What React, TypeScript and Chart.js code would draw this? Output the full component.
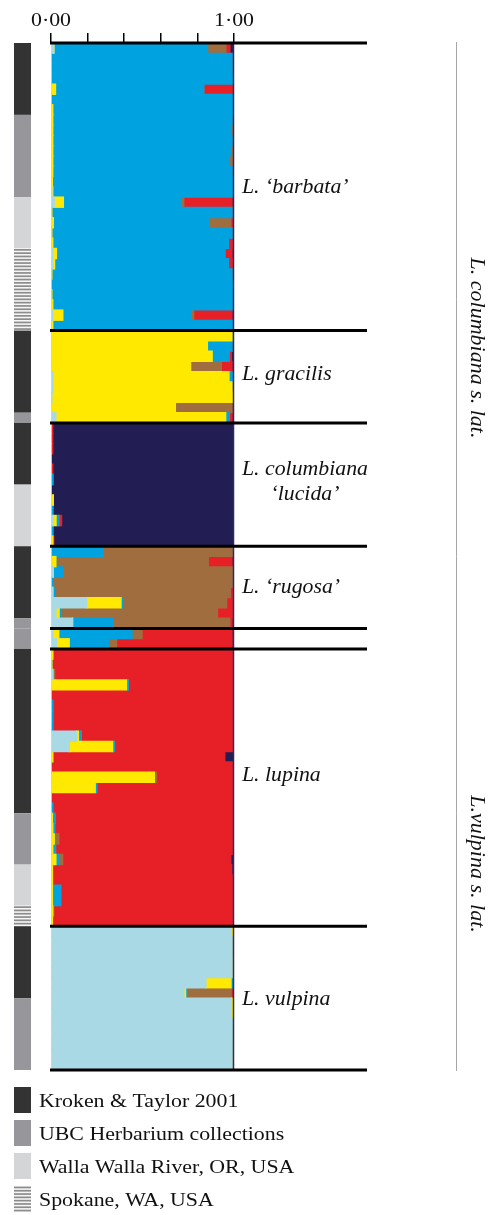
import React, { useEffect, useRef } from 'react';
import { Chart, registerables } from 'chart.js';

Chart.register(...registerables);

// cluster order (left to right within each bar)
const clusterLabels = ['Cluster light blue', 'Cluster yellow', 'Cluster blue', 'Cluster brown', 'Cluster red', 'Cluster navy'];
const clusterColors = ['#a9d9e5', '#ffe900', '#00a3e0', '#a06d3e', '#e71f27', '#221d52'];

// each row: [light blue, yellow, blue, brown, red, navy]
const barbataRows = [
  [0.016, 0, 0.84, 0.1, 0.022, 0.022],
  [0, 0, 0.99, 0.01, 0, 0],
  [0, 0, 0.99, 0.01, 0, 0],
  [0, 0, 1, 0, 0, 0],
  [0, 0.025, 0.81, 0, 0.16, 0.005],
  [0, 0, 0.995, 0, 0.005, 0],
  [0, 0.01, 0.985, 0, 0.005, 0],
  [0, 0.01, 0.98, 0.005, 0.005, 0],
  [0, 0.01, 0.975, 0.015, 0, 0],
  [0, 0.01, 0.98, 0.005, 0.005, 0],
  [0, 0.01, 0.97, 0.02, 0, 0],
  [0, 0.01, 0.965, 0.02, 0.005, 0],
  [0, 0.01, 0.98, 0.005, 0.005, 0],
  [0, 0.008, 0.987, 0, 0.005, 0],
  [0.005, 0.005, 0.985, 0, 0.005, 0],
  [0.018, 0.05, 0.645, 0.013, 0.264, 0.01],
  [0, 0.005, 0.985, 0, 0.01, 0],
  [0, 0.013, 0.85, 0.12, 0.01, 0.007],
  [0, 0.005, 0.985, 0, 0.01, 0],
  [0, 0.01, 0.96, 0, 0.03, 0],
  [0.01, 0.02, 0.92, 0, 0.04, 0.01],
  [0.01, 0.01, 0.95, 0, 0.03, 0],
  [0, 0.005, 0.985, 0, 0.01, 0],
  [0, 0, 0.995, 0, 0.005, 0],
  [0, 0.005, 0.99, 0, 0.005, 0],
  [0, 0.01, 0.985, 0, 0.005, 0],
  [0.01, 0.055, 0.697, 0.018, 0.21, 0.01],
  [0, 0.01, 0.985, 0, 0.005, 0],
];

const gracilisRows = [
  [0, 0.99, 0, 0, 0, 0.01],
  [0, 0.855, 0.135, 0, 0, 0.01],
  [0, 0.881, 0.093, 0, 0.012, 0.014],
  [0, 0.763, 0, 0.168, 0.059, 0.01],
  [0.01, 0.963, 0.022, 0, 0, 0.005],
  [0.01, 0.98, 0, 0, 0.005, 0.005],
  [0.005, 0.99, 0, 0, 0, 0.005],
  [0, 0.68, 0, 0.31, 0, 0.01],
  [0.027, 0.928, 0.02, 0, 0.015, 0.01],
];

const lucidaRows = [
  [0, 0, 0, 0, 0.01, 0.99],
  [0, 0, 0, 0, 0.01, 0.99],
  [0, 0, 0, 0, 0.01, 0.99],
  [0, 0, 0, 0, 0, 1],
  [0, 0, 0, 0, 0.01, 0.99],
  [0, 0, 0.01, 0, 0, 0.99],
  [0, 0, 0, 0, 0, 1],
  [0, 0.013, 0, 0, 0, 0.987],
  [0, 0, 0.01, 0, 0, 0.99],
  [0.01, 0.018, 0.015, 0, 0.015, 0.942],
  [0, 0, 0.01, 0, 0, 0.99],
  [0, 0.01, 0, 0, 0.005, 0.985],
];

const rugosaRows = [
  [0, 0, 0.286, 0.709, 0, 0.005],
  [0, 0.027, 0, 0.833, 0.13, 0.01],
  [0.013, 0, 0.05, 0.932, 0, 0.005],
  [0, 0, 0.013, 0.982, 0, 0.005],
  [0.01, 0, 0.01, 0.96, 0.015, 0.005],
  [0.195, 0.188, 0.008, 0.569, 0.035, 0.005],
  [0.027, 0.018, 0.01, 0.855, 0.085, 0.005],
  [0.118, 0, 0.218, 0.641, 0.013, 0.01],
];

const mixedRows = [
  [0.01, 0.033, 0.4, 0.055, 0.492, 0.01],
  [0.03, 0.07, 0.215, 0.044, 0.631, 0.01],
];

const lupinaRows = [
  [0, 0.01, 0, 0, 0.99, 0],
  [0, 0.005, 0, 0, 0.995, 0],
  [0.01, 0, 0, 0.01, 0.98, 0],
  [0, 0.413, 0.01, 0, 0.577, 0],
  [0, 0, 0, 0, 1, 0],
  [0, 0, 0.01, 0, 0.99, 0],
  [0, 0, 0.01, 0, 0.99, 0],
  [0, 0, 0.01, 0, 0.99, 0],
  [0.14, 0.01, 0.015, 0, 0.835, 0],
  [0.1, 0.237, 0.01, 0, 0.653, 0],
  [0, 0.01, 0, 0, 0.94, 0.05],
  [0, 0, 0, 0, 1, 0],
  [0, 0.565, 0, 0.012, 0.423, 0],
  [0, 0.242, 0.008, 0, 0.75, 0],
  [0, 0, 0, 0, 1, 0],
  [0, 0, 0.01, 0, 0.99, 0],
  [0, 0.008, 0.015, 0, 0.977, 0],
  [0, 0.01, 0.01, 0, 0.98, 0],
  [0, 0.018, 0, 0.025, 0.957, 0],
  [0, 0.01, 0.015, 0, 0.975, 0],
  [0, 0.027, 0.015, 0.022, 0.919, 0.017],
  [0, 0.008, 0, 0, 0.98, 0.012],
  [0, 0.008, 0, 0, 0.992, 0],
  [0, 0.008, 0.045, 0, 0.947, 0],
  [0, 0.008, 0.045, 0, 0.947, 0],
  [0, 0.01, 0, 0.005, 0.985, 0],
  [0, 0.008, 0, 0, 0.992, 0],
];

const vulpinaRows = [
  [0.985, 0.015, 0, 0, 0, 0],
  [0.99, 0, 0, 0.01, 0, 0],
  [0.99, 0, 0, 0.01, 0, 0],
  [0.99, 0.005, 0, 0.005, 0, 0],
  [0.99, 0.01, 0, 0, 0, 0],
  [0.847, 0.137, 0.008, 0, 0, 0.008],
  [0.727, 0.009, 0.009, 0.24, 0.01, 0.005],
  [0.985, 0.015, 0, 0, 0, 0],
  [0.985, 0.015, 0, 0, 0, 0],
  [0.99, 0, 0.01, 0, 0, 0],
  [0.99, 0, 0.005, 0, 0.005, 0],
  [0.99, 0, 0.01, 0, 0, 0],
  [0.99, 0, 0.005, 0, 0.005, 0],
  [0.99, 0, 0.01, 0, 0, 0],
];

// sample source runs per group: [source index, number of samples]
const barbataSources = [[0, 7], [1, 8], [2, 5], [3, 8]];
const gracilisSources = [[0, 8], [1, 1]];
const lucidaSources = [[0, 6], [2, 6]];
const rugosaSources = [[0, 7], [1, 1]];
const mixedSources = [[1, 2]];
const lupinaSources = [[0, 16], [1, 5], [2, 4], [3, 2]];
const vulpinaSources = [[0, 7], [1, 7]];

const sourceNames = ['Kroken & Taylor 2001', 'UBC Herbarium collections', 'Walla Walla River, OR, USA', 'Spokane, WA, USA'];
const sourceFills = ['#333333', '#97979b', '#d4d5d7', 'stripes'];

const xTickValues = [0, 0.2, 0.4, 0.6, 0.8, 1];
const xTickLabels = ['0·00', '', '', '', '', '1·00'];

const groups = [
  { rows: barbataRows, sources: barbataSources },
  { rows: gracilisRows, sources: gracilisSources },
  { rows: lucidaRows, sources: lucidaSources },
  { rows: rugosaRows, sources: rugosaSources },
  { rows: mixedRows, sources: mixedSources },
  { rows: lupinaRows, sources: lupinaSources },
  { rows: vulpinaRows, sources: vulpinaSources },
];

const speciesLabels = [
  { lines: ['L. ‘barbata’'], baselines: [193] },
  { lines: ['L. gracilis'], baselines: [380] },
  { lines: ['L. columbiana', '‘lucida’'], baselines: [475, 500] },
  { lines: ['L. ‘rugosa’'], baselines: [593] },
  { lines: ['L. lupina'], baselines: [781] },
  { lines: ['L. vulpina'], baselines: [1005] },
];

const sectionLabels = [
  { text: 'L. columbiana s. lat.', cy: 348 },
  { text: 'L.vulpina s. lat.', cy: 864 },
];

const allRows = groups.flatMap((g) => g.rows);
const sampleLabels = allRows.map((_, i) => 'S' + (i + 1));

const SERIF = '"Liberation Serif", "Times New Roman", Times, serif';

function stretchText(ctx: CanvasRenderingContext2D, text: string, x: number, y: number, font: string, sx: number, align: CanvasTextAlign = 'left', rotate = 0) {
  ctx.save();
  ctx.translate(x, y);
  if (rotate) ctx.rotate(rotate);
  ctx.scale(sx, 1);
  ctx.font = font;
  ctx.textAlign = align;
  ctx.textBaseline = rotate ? 'middle' : 'alphabetic';
  ctx.fillStyle = '#111111';
  ctx.fillText(text, 0, 0);
  ctx.restore();
}

function fillSource(ctx: CanvasRenderingContext2D, kind: number, x: number, y: number, w: number, h: number) {
  if (sourceFills[kind] === 'stripes') {
    ctx.fillStyle = '#f6f6f6';
    ctx.fillRect(x, y, w, h);
    ctx.fillStyle = '#8c8c8c';
    for (let yy = y + 0.6; yy < y + h - 0.4; yy += 3.3) {
      ctx.fillRect(x, yy, w, Math.min(1.7, y + h - yy));
    }
  } else {
    ctx.fillStyle = sourceFills[kind];
    ctx.fillRect(x, y, w, h);
  }
}

const decorPlugin = {
  id: 'structureDecor',
  afterDatasetsDraw(chart: any) {
    const { ctx } = chart;
    const xs = chart.scales.x;
    const ys = chart.scales.y;
    const n = allRows.length;
    const edge = (k: number) => ys.getPixelForValue(k - 0.5);

    ctx.save();
    // source column
    let start = 0;
    const boundaries: number[] = [0];
    groups.forEach((g) => {
      let r = start;
      g.sources.forEach(([kind, count]) => {
        const top = edge(r);
        const bottom = edge(r + count);
        fillSource(ctx, kind, 14, top, 17, bottom - top);
        r += count;
      });
      start += g.rows.length;
      boundaries.push(start);
    });

    // right edge line of the structure plot
    const xr = xs.getPixelForValue(1);
    ctx.strokeStyle = '#2e2868';
    ctx.lineWidth = 1.5;
    ctx.beginPath();
    ctx.moveTo(xr - 0.5, edge(0));
    ctx.lineTo(xr - 0.5, edge(n));
    ctx.stroke();

    // group separators
    ctx.strokeStyle = '#000000';
    ctx.lineWidth = 3;
    boundaries.forEach((k) => {
      const yy = edge(k);
      ctx.beginPath();
      ctx.moveTo(50, yy);
      ctx.lineTo(367, yy);
      ctx.stroke();
    });

    // tick labels
    xTickValues.forEach((v, i) => {
      if (xTickLabels[i]) stretchText(ctx, xTickLabels[i], xs.getPixelForValue(v), 26, '19px ' + SERIF, 1.15, 'center');
    });

    // species labels
    const italic = 'italic 20px ' + SERIF;
    const sx = 1.09;
    speciesLabels.forEach((lab) => {
      if (lab.lines.length === 1) {
        stretchText(ctx, lab.lines[0], 242, lab.baselines[0], italic, sx, 'left');
      } else {
        ctx.font = italic;
        const w = ctx.measureText(lab.lines[0]).width * sx;
        stretchText(ctx, lab.lines[0], 242, lab.baselines[0], italic, sx, 'left');
        stretchText(ctx, lab.lines[1], 242 + w / 2, lab.baselines[1], italic, sx, 'center');
      }
    });

    // right-side bracket line and rotated labels
    ctx.strokeStyle = '#a6a6a6';
    ctx.lineWidth = 1;
    ctx.beginPath();
    ctx.moveTo(456.5, 42);
    ctx.lineTo(456.5, 1071);
    ctx.stroke();
    sectionLabels.forEach((s) => {
      stretchText(ctx, s.text, 476, s.cy, italic, 1.1, 'center', Math.PI / 2);
    });

    // legend for sample sources
    sourceNames.forEach((name, i) => {
      const base = 1107 + i * 33;
      fillSource(ctx, i, 14, base - 20, 17, 26);
      stretchText(ctx, name, 39, base, '19px ' + SERIF, 1.15, 'left');
    });
    ctx.restore();
  },
};

export default function App() {
  const canvasRef = useRef<HTMLCanvasElement | null>(null);

  useEffect(() => {
    const canvas = canvasRef.current;
    if (!canvas) return;
    const chart = new Chart(canvas, {
      type: 'bar',
      data: {
        labels: sampleLabels,
        datasets: clusterLabels.map((label, k) => ({
          label,
          data: allRows.map((r) => r[k]),
          backgroundColor: clusterColors[k],
          borderWidth: 0,
          inflateAmount: 0.6,
          barPercentage: 1,
          categoryPercentage: 1,
        })),
      },
      options: {
        indexAxis: 'y',
        responsive: false,
        animation: false,
        devicePixelRatio: 1,
        layout: { padding: { left: 51, right: 259, top: 33, bottom: 145 } },
        plugins: { legend: { display: false }, tooltip: { enabled: false } },
        scales: {
          x: {
            type: 'linear',
            position: 'top',
            min: 0,
            max: 1,
            stacked: true,
            afterBuildTicks: (scale: any) => {
              scale.ticks = xTickValues.map((v) => ({ value: v }));
            },
            ticks: { display: false },
            grid: { drawOnChartArea: false, drawTicks: true, tickLength: 10, color: '#000000', lineWidth: 1.5 },
            border: { display: false },
          },
          y: { type: 'category', stacked: true, display: false },
        },
      },
      plugins: [decorPlugin],
    } as any);
    return () => chart.destroy();
  }, []);

  return (
    <div style={{ position: 'absolute', left: 0, top: 0, width: 493, height: 1215, background: '#ffffff' }}>
      <canvas ref={canvasRef} width={493} height={1215} style={{ display: 'block', width: 493, height: 1215 }} />
    </div>
  );
}
